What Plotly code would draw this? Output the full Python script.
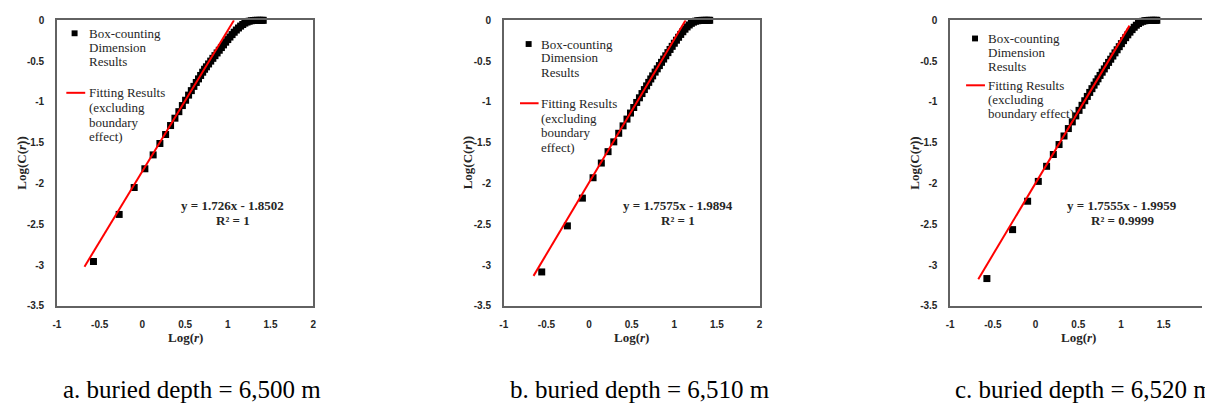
import plotly.graph_objects as go

W, H = 1205, 411
SERIF = "Liberation Serif, Times New Roman, serif"
SANS = "Liberation Sans, Arial, sans-serif"
TXT = "#262626"
AXC = "#626262"

# ---------------- data ----------------
x_tickvals = [-1, -0.5, 0, 0.5, 1, 1.5, 2]
x_ticktext = ["-1", "-0.5", "0", "0.5", "1", "1.5", "2"]
y_tickvals = [0, -0.5, -1, -1.5, -2, -2.5, -3, -3.5]
y_ticktext = ["0", "-0.5", "-1", "-1.5", "-2", "-2.5", "-3", "-3.5"]

a_logr = [-0.573, -0.272, -0.096, 0.029, 0.126, 0.205, 0.272, 0.330, 0.381, 0.427,
          0.468, 0.506, 0.541, 0.573, 0.603, 0.631, 0.657, 0.682, 0.706, 0.728,
          0.75, 0.775, 0.80, 0.825, 0.85, 0.875, 0.90, 0.925, 0.95, 0.975, 1.0,
          1.025, 1.05, 1.075, 1.10, 1.125, 1.15, 1.175, 1.20, 1.225, 1.25, 1.275,
          1.30, 1.325, 1.35, 1.375, 1.40, 1.415]
a_logc = [-2.957, -2.38, -2.05, -1.82, -1.65, -1.51, -1.40, -1.29, -1.20, -1.12,
          -1.045, -0.98, -0.917, -0.862, -0.81, -0.762, -0.718, -0.676, -0.636, -0.60,
          -0.57, -0.535, -0.50, -0.466, -0.433, -0.40, -0.367, -0.334, -0.301, -0.268, -0.236,
          -0.205, -0.175, -0.146, -0.119, -0.094, -0.071, -0.051, -0.034, -0.021, -0.011, -0.005,
          -0.002, 0.0, 0.0, 0.0, 0.0, 0.0]
a_fit_x = [-0.678, 1.072]
a_fit_y = [-3.020, 0.0]

b_logr = [-0.555, -0.254, -0.078, 0.047, 0.144, 0.223, 0.290, 0.348, 0.399, 0.445,
          0.486, 0.524, 0.559, 0.591, 0.621, 0.649, 0.675, 0.700, 0.724, 0.746,
          0.775, 0.80, 0.825, 0.85, 0.875, 0.90, 0.925, 0.95, 0.975, 1.0,
          1.025, 1.05, 1.075, 1.10, 1.125, 1.15, 1.175, 1.20, 1.225, 1.25, 1.275,
          1.30, 1.325, 1.35, 1.375, 1.40, 1.415]
b_logc = [-3.085, -2.52, -2.18, -1.93, -1.75, -1.61, -1.49, -1.385, -1.294, -1.211,
          -1.137, -1.069, -1.007, -0.950, -0.898, -0.849, -0.804, -0.761, -0.719, -0.681,
          -0.635, -0.595, -0.555, -0.515, -0.475, -0.435, -0.396, -0.357, -0.319, -0.281,
          -0.244, -0.208, -0.173, -0.140, -0.109, -0.081, -0.057, -0.037, -0.022, -0.011, -0.005,
          -0.002, 0.0, 0.0, 0.0, 0.0, 0.0]
b_fit_x = [-0.651, 1.132]
b_fit_y = [-3.133, 0.0]

c_logr = [-0.570, -0.269, -0.093, 0.032, 0.129, 0.208, 0.275, 0.333, 0.384, 0.430,
          0.471, 0.509, 0.544, 0.576, 0.606, 0.634, 0.660, 0.685, 0.709, 0.731,
          0.755, 0.78, 0.805, 0.83, 0.855, 0.88, 0.905, 0.93, 0.955, 0.98, 1.005,
          1.03, 1.055, 1.08, 1.105, 1.13, 1.155, 1.18, 1.205, 1.23, 1.255, 1.28,
          1.305, 1.33, 1.355, 1.38, 1.405, 1.42]
c_logc = [-3.166, -2.566, -2.218, -1.975, -1.79, -1.645, -1.523, -1.418, -1.327, -1.245,
          -1.172, -1.104, -1.042, -0.986, -0.933, -0.884, -0.838, -0.795, -0.754, -0.717,
          -0.676, -0.636, -0.596, -0.556, -0.516, -0.477, -0.438, -0.399, -0.361, -0.323, -0.286,
          -0.249, -0.213, -0.178, -0.145, -0.114, -0.085, -0.060, -0.039, -0.023, -0.012, -0.005,
          -0.002, 0.0, 0.0, 0.0, 0.0, 0.0]
c_fit_x = [-0.671, 1.10]
c_fit_y = [-3.174, -0.065]

equations = ["y = 1.726x - 1.8502", "y = 1.7575x - 1.9894", "y = 1.7555x - 1.9959"]
r2_texts = ["R\u00b2 = 1", "R\u00b2 = 1", "R\u00b2 = 0.9999"]
captions = ["a. buried depth = 6,500 m", "b. buried depth = 6,510 m", "c. buried depth = 6,520 m"]
legend_box = ["Box-counting", "Dimension", "Results"]
legend_fit_ab = ["Fitting Results", "(excluding", "boundary", "effect)"]
legend_fit_c = ["Fitting Results", "(excluding", "boundary effect)"]

# ---------------- layout helpers ----------------
def px(x):
    return x / W

def py(y):
    return 1 - y / H

panels = [
    dict(key="", left=53.3, right=311.0, xr=[-1, 2], ymirror=True,
         data=(a_logr, a_logc, a_fit_x, a_fit_y),
         mk=(71, 29), tx=83.3, ly=[29, 44, 58], rl=(62.7, 81.7, 90),
         fl=legend_fit_ab, fy=[90, 105, 120, 135],
         eq=(230, 205, 220.7), xt=(182.7, 340.7), yt=(16.7, 162), cap=57),
    dict(key="2", left=502.7, right=760.0, xr=[-1, 2], ymirror=True,
         data=(b_logr, b_logc, b_fit_x, b_fit_y),
         mk=(527.7, 40), tx=538.3, ly=[40, 54, 69], rl=(519, 537.7, 100.7),
         fl=legend_fit_ab, fy=[100.7, 116, 131, 145.7],
         eq=(677.7, 205, 220.7), xt=(631.5, 340.7), yt=(466, 162), cap=507),
    dict(key="3", left=951.7, right=1205.0, xr=[-1, -1 + (1205 - 951.7) / 85.9], ymirror=False,
         data=(c_logr, c_logc, c_fit_x, c_fit_y),
         mk=(976.7, 34.3), tx=987.3, ly=[34.3, 49, 63], rl=(967.7, 986.7, 82.3),
         fl=legend_fit_c, fy=[82.3, 97, 111.7],
         eq=(1125, 205, 220.7), xt=(1080.5, 340.7), yt=(915, 162), cap=955),
]

TOP, BOTTOM = 15.7, 308.3

fig = go.Figure()
annotations = []
shapes = []
layout_axes = {}

for i, p in enumerate(panels):
    k = p["key"]
    xs, ys, fx, fy_ = p["data"]
    fig.add_trace(go.Scatter(x=xs, y=ys, mode="markers", xaxis="x" + k, yaxis="y" + k,
                             marker=dict(symbol="square", size=7, color="black"),
                             cliponaxis=False, showlegend=False,
                             name="Box-counting Dimension Results"))
    fig.add_trace(go.Scatter(x=fx, y=fy_, mode="lines", xaxis="x" + k, yaxis="y" + k,
                             line=dict(color="#ff0000", width=2), showlegend=False,
                             name="Fitting Results"))
    layout_axes["xaxis" + k] = dict(
        domain=[px(p["left"]), px(p["right"])], range=p["xr"], anchor="y" + k,
        tickvals=x_tickvals, ticktext=x_ticktext, showgrid=False, zeroline=False,
        showline=True, linecolor=AXC, linewidth=1.6, mirror=True, ticks="",
        ticklabelstandoff=8,
        tickfont=dict(family=SANS, size=10, color=TXT, weight="bold"))
    layout_axes["yaxis" + k] = dict(
        domain=[py(BOTTOM), py(TOP)], range=[-3.5, 0], anchor="x" + k,
        tickvals=y_tickvals, ticktext=y_ticktext, showgrid=False, zeroline=False,
        showline=True, linecolor=AXC, linewidth=1.6, mirror=p["ymirror"], ticks="",
        ticklabelstandoff=9,
        tickfont=dict(family=SANS, size=10, color=TXT, weight="bold"))

    # legend: marker sample + text
    mx, my = p["mk"]
    shapes.append(dict(type="rect", xref="paper", yref="paper",
                       x0=px(mx - 3), x1=px(mx + 3), y0=py(my + 3), y1=py(my - 3),
                       fillcolor="black", line=dict(width=0)))
    for t, yy in zip(legend_box, p["ly"]):
        annotations.append(dict(text=t, x=px(p["tx"]), y=py(yy), xref="paper", yref="paper",
                                xanchor="left", yanchor="middle", showarrow=False,
                                font=dict(family=SERIF, size=13, color=TXT)))
    x0, x1, yl = p["rl"]
    shapes.append(dict(type="line", xref="paper", yref="paper",
                       x0=px(x0), x1=px(x1), y0=py(yl), y1=py(yl),
                       line=dict(color="#ff0000", width=2)))
    for t, yy in zip(p["fl"], p["fy"]):
        annotations.append(dict(text=t, x=px(p["tx"]), y=py(yy), xref="paper", yref="paper",
                                xanchor="left", yanchor="middle", showarrow=False,
                                font=dict(family=SERIF, size=13, color=TXT)))
    # equation
    ex, ey1, ey2 = p["eq"]
    annotations.append(dict(text="<b>%s</b>" % equations[i], x=px(ex), y=py(ey1),
                            xref="paper", yref="paper", showarrow=False,
                            xanchor="center", yanchor="middle",
                            font=dict(family=SERIF, size=13, color=TXT)))
    annotations.append(dict(text="<b>%s</b>" % r2_texts[i], x=px(ex), y=py(ey2),
                            xref="paper", yref="paper", showarrow=False,
                            xanchor="center", yanchor="middle",
                            font=dict(family=SERIF, size=13, color=TXT)))
    # axis titles
    annotations.append(dict(text="<b>Log(<i>r</i>)</b>", x=px(p["xt"][0]), y=py(p["xt"][1]),
                            xref="paper", yref="paper", showarrow=False,
                            xanchor="center", yanchor="middle",
                            font=dict(family=SERIF, size=13, color=TXT)))
    annotations.append(dict(text="<b>Log(C(<i>r</i>))</b>", x=px(p["yt"][0]), y=py(p["yt"][1]),
                            xref="paper", yref="paper", showarrow=False, textangle=-90,
                            xanchor="center", yanchor="middle",
                            font=dict(family=SERIF, size=13, color=TXT)))
    # caption
    annotations.append(dict(text=captions[i], x=px(p["cap"]), y=py(394),
                            xref="paper", yref="paper", showarrow=False,
                            xanchor="left", yanchor="middle",
                            font=dict(family=SERIF, size=25, color="black")))

fig.update_layout(width=W, height=H, margin=dict(l=0, r=0, t=0, b=0),
                  paper_bgcolor="white", plot_bgcolor="white",
                  annotations=annotations, shapes=shapes, showlegend=False,
                  **layout_axes)

fig.write_html("out.html")
